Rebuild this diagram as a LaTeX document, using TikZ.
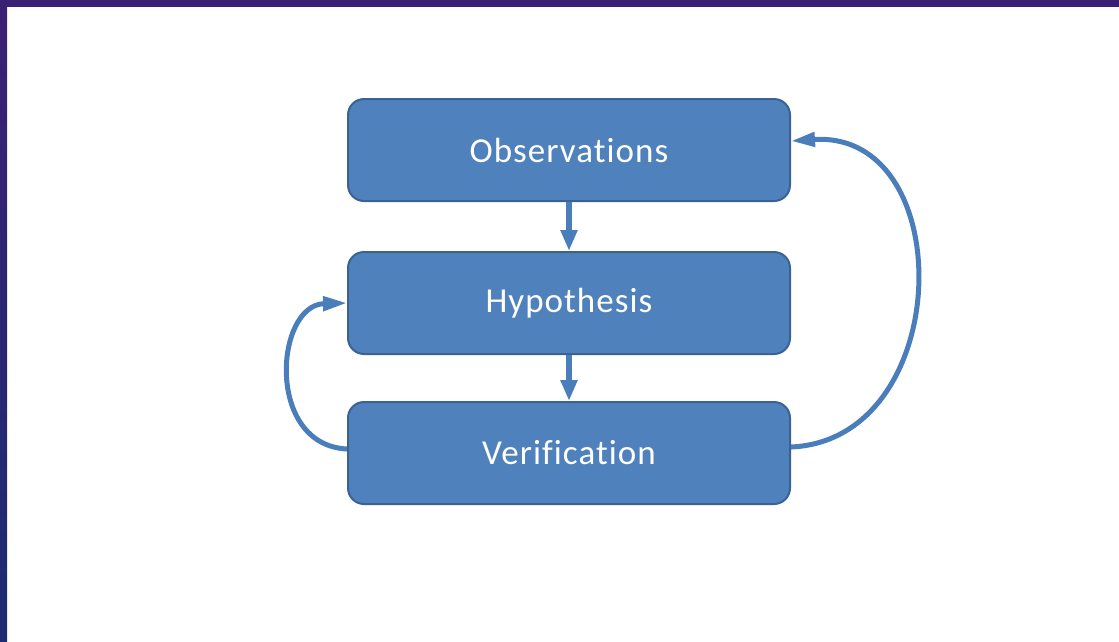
\documentclass[tikz,border=0pt]{standalone}
\usepackage{fontspec}
\setmainfont{Carlito}[Ligatures=NoCommon,LetterSpace=3]
\usetikzlibrary{arrows.meta,positioning}
\definecolor{boxfill}{HTML}{4F81BD}
\definecolor{boxline}{HTML}{3A6292}
\definecolor{arr}{HTML}{4A7EBB}
\definecolor{bandtop}{HTML}{3B1F72}
\definecolor{bandbot}{HTML}{1B2C72}
\tikzset{
  stage/.style={draw=boxline,line width=2pt,rounded corners=16pt,fill=boxfill,
    minimum width=442pt,minimum height=102pt,text=white,font=\fontsize{35}{42}\selectfont},
  ar/.style={-{Triangle[length=21pt,width=16pt]},line width=6.5pt,draw=arr},
  loop/.style={-{Triangle[length=24pt,width=14pt]},line width=5pt,draw=arr},
}

\begin{document}
\begin{tikzpicture}[x=1pt,y=-1pt]
\useasboundingbox (0,0) rectangle (1119,641);
\fill[white] (0,0) rectangle (1119,641);
% slide border
\fill[bandtop] (0,0) rectangle (1119,7);
\shade[top color=bandtop,bottom color=bandbot] (0,0) rectangle (7,641);
\node[stage] (obs) at (569,150) {Observations};
\node[stage,below=49pt of obs] (hyp) {Hypothesis};
\node[stage,below=46pt of hyp] (ver) {Verification};
\draw[ar] (obs)--(hyp); \draw[ar] (hyp)--(ver);
\draw[loop] ([yshift=4pt]ver.west) .. controls (265,445) and (275,305) .. (hyp.west);
\draw[loop] ([yshift=6pt]ver.east) .. controls (955,440) and (960,130) .. ([yshift=9pt]obs.east);
\end{tikzpicture}
\end{document}
